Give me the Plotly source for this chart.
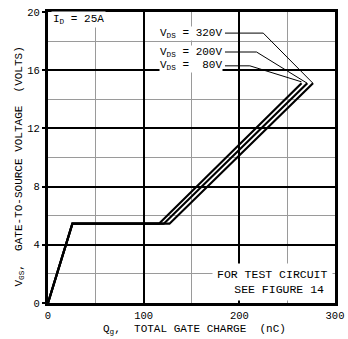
import plotly.graph_objects as go

# Gate charge curves (Qg in nC, VGS in V)
q_80 = [0, 25.5, 116, 265]
v_80 = [0, 5.45, 5.45, 15.1]
q_200 = [0, 25.5, 121, 271]
v_200 = [0, 5.45, 5.45, 15.1]
q_320 = [0, 25.5, 127, 277]
v_320 = [0, 5.45, 5.45, 15.1]

vds_labels = ["V<sub>DS</sub> = 320V", "V<sub>DS</sub> = 200V", "V<sub>DS</sub> =  80V"]
label_y = [18.55, 17.25, 16.3]
leader_x = [[185, 225, 277], [185, 218, 271], [185, 211, 265]]
leader_y = [[18.55, 18.55, 15.1], [17.25, 17.25, 15.1], [16.3, 16.3, 15.2]]

x_ticks = [0, 100, 200, 300]
y_ticks = [0, 4, 8, 12, 16, 20]

FONT = "Liberation Mono"

fig = go.Figure()
for qx, vy in [(q_80, v_80), (q_200, v_200), (q_320, v_320)]:
    fig.add_trace(go.Scatter(x=qx, y=vy, mode="lines",
                             line=dict(color="black", width=2.2),
                             showlegend=False, hoverinfo="skip"))
for lx, ly in zip(leader_x, leader_y):
    fig.add_trace(go.Scatter(x=lx, y=ly, mode="lines",
                             line=dict(color="black", width=1),
                             showlegend=False, hoverinfo="skip"))

annotations = []
for txt, yy in zip(vds_labels, label_y):
    annotations.append(dict(x=183, y=yy, xref="x", yref="y", text=txt,
                            showarrow=False, xanchor="right", yanchor="middle",
                            font=dict(family=FONT, size=11, color="black"),
                            bgcolor="white", borderpad=0))
annotations.append(dict(x=3, y=19.5, xref="x", yref="y", text="I<sub>D</sub> = 25A",
                        showarrow=False, xanchor="left", yanchor="middle",
                        font=dict(family=FONT, size=11, color="black"),
                        bgcolor="white", borderpad=1))
annotations.append(dict(x=298, y=0.15, xref="x", yref="y",
                        text="FOR TEST CIRCUIT<br>  SEE FIGURE 14",
                        showarrow=False, xanchor="right", yanchor="bottom",
                        align="center",
                        font=dict(family=FONT, size=11.5, color="black"),
                        bgcolor="white", borderpad=4))
# axis titles as annotations for exact placement
annotations.append(dict(x=-0.1, y=0.47, xref="paper", yref="paper",
                        text="V<sub>GS</sub>,  GATE-TO-SOURCE VOLTAGE  (VOLTS)",
                        textangle=-90, showarrow=False,
                        xanchor="center", yanchor="middle",
                        font=dict(family=FONT, size=11, color="black")))
annotations.append(dict(x=0.51, y=-0.092, xref="paper", yref="paper",
                        text="Q<sub>g</sub>,  TOTAL GATE CHARGE  (nC)",
                        showarrow=False, xanchor="center", yanchor="middle",
                        font=dict(family=FONT, size=11, color="black")))

fig.update_layout(
    width=348, height=339, autosize=False,
    margin=dict(l=48, r=13, t=12, b=36),
    paper_bgcolor="white", plot_bgcolor="white",
    font=dict(family=FONT, size=11, color="black"),
    annotations=annotations,
    xaxis=dict(range=[0, 300], tickvals=x_ticks, ticktext=[str(v) for v in x_ticks],
               automargin=False,
               showgrid=True, gridcolor="black", gridwidth=2,
               minor=dict(dtick=50, showgrid=True, gridcolor="#9a9a9a", gridwidth=1),
               showline=True, linecolor="black", linewidth=3, mirror=True,
               ticks="", zeroline=False, ticklen=0,
               tickfont=dict(family=FONT, size=10.5)),
    yaxis=dict(range=[0, 20], tickvals=y_ticks, ticktext=[str(v) for v in y_ticks],
               automargin=False,
               showgrid=True, gridcolor="black", gridwidth=2,
               minor=dict(dtick=2, showgrid=True, gridcolor="#9a9a9a", gridwidth=1),
               showline=True, linecolor="black", linewidth=3, mirror=True,
               ticks="outside", ticklen=3, tickcolor="black", tickwidth=2,
               zeroline=False,
               tickfont=dict(family=FONT, size=10.5)),
)

fig.write_html("out.html",
               config={"displayModeBar": False, "responsive": False},
               post_script="document.body.style.margin='0';document.body.style.overflow='hidden';")
